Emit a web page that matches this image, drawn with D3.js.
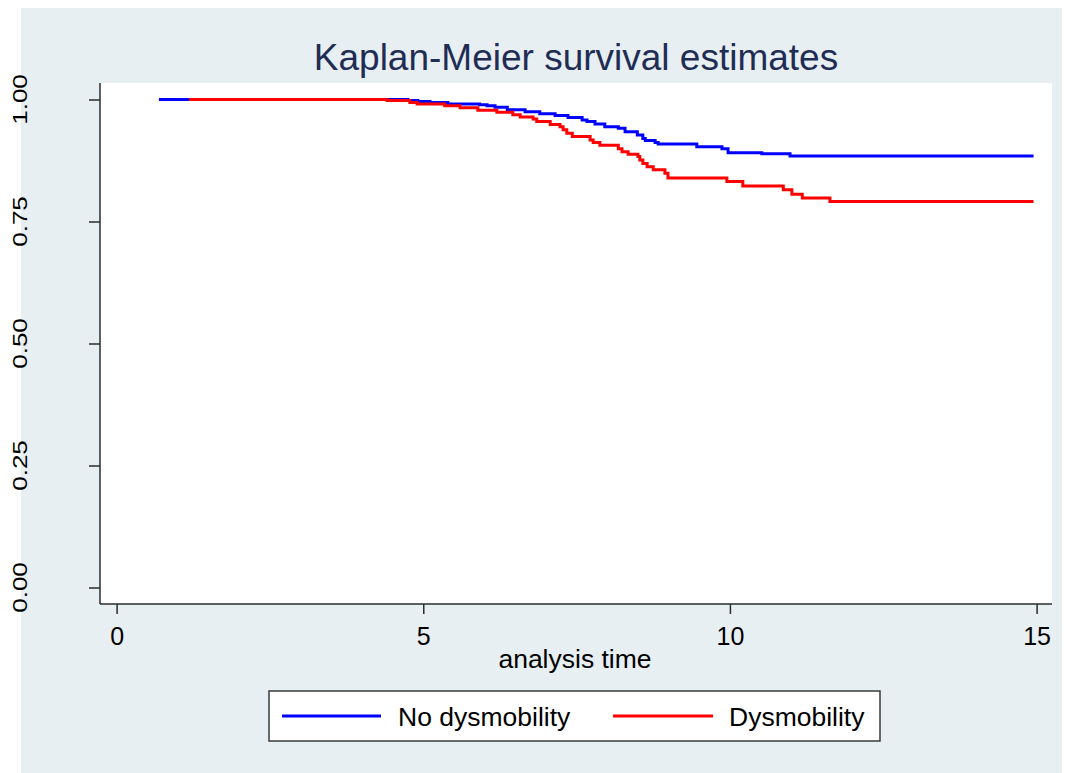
<!DOCTYPE html>
<html>
<head>
<meta charset="utf-8">
<script src="https://cdn.jsdelivr.net/npm/d3@7"></script>
<style>
  html, body { margin: 0; padding: 0; background: #ffffff; }
  svg { display: block; font-family: "Liberation Sans", Arial, sans-serif; }
</style>
</head>
<body>
<svg id="chart" width="1066" height="773"></svg>
<script>
// Kaplan-Meier step estimates, one pair of arrays per group
const noDysTimes = [0.69, 4.75, 4.91, 5.11, 5.40, 5.92, 6.04, 6.17, 6.37, 6.66, 6.90, 7.15, 7.36, 7.59, 7.67, 7.80, 7.96, 8.18, 8.29, 8.49, 8.58, 8.62, 8.78, 8.83, 9.46, 9.87, 9.97, 10.52, 10.98, 14.95];
const noDysSurv  = [1.000, 0.998, 0.996, 0.994, 0.991, 0.989, 0.987, 0.984, 0.979, 0.975, 0.971, 0.967, 0.963, 0.958, 0.955, 0.950, 0.944, 0.941, 0.934, 0.927, 0.920, 0.916, 0.912, 0.909, 0.903, 0.899, 0.891, 0.889, 0.884, 0.884];

const dysTimes = [1.18, 4.41, 4.78, 4.90, 5.35, 5.60, 5.89, 6.20, 6.46, 6.58, 6.79, 6.85, 7.07, 7.23, 7.28, 7.34, 7.43, 7.72, 7.77, 7.88, 8.18, 8.24, 8.34, 8.50, 8.53, 8.58, 8.65, 8.75, 8.94, 8.99, 9.95, 10.21, 10.87, 11.01, 11.18, 11.63, 14.95];
const dysSurv  = [1.000, 0.998, 0.994, 0.991, 0.987, 0.983, 0.978, 0.974, 0.969, 0.964, 0.960, 0.955, 0.949, 0.944, 0.938, 0.931, 0.924, 0.917, 0.912, 0.906, 0.899, 0.893, 0.888, 0.883, 0.876, 0.869, 0.862, 0.856, 0.849, 0.839, 0.832, 0.823, 0.815, 0.806, 0.798, 0.791, 0.791];

const xTicks = [0, 5, 10, 15];
const yTicks = [0, 0.25, 0.5, 0.75, 1];
const yTickLabels = ["0.00", "0.25", "0.50", "0.75", "1.00"];
const groupNames = ["No dysmobility", "Dysmobility"];
const groupColors = ["#0000ff", "#ff0000"];
const titleText = "Kaplan-Meier survival estimates";
const xTitle = "analysis time";

const svg = d3.select("#chart");
const axisColor = "#2b2b2b";

// graph region and plot region
svg.append("rect").attr("x", 21).attr("y", 8).attr("width", 1041).attr("height", 765).attr("fill", "#e8eff2");
const plot = { left: 100, right: 1052, top: 83, bottom: 604 };
svg.append("rect").attr("x", plot.left).attr("y", plot.top)
  .attr("width", plot.right - plot.left).attr("height", plot.bottom - plot.top).attr("fill", "#ffffff");

const x = d3.scaleLinear().domain([0, 15]).range([116.6, 1036.6]);
const y = d3.scaleLinear().domain([0, 1]).range([587.5, 99.5]);

// title
svg.append("text").attr("x", 576).attr("y", 70).attr("text-anchor", "middle")
  .attr("font-size", 37).attr("fill", "#1f2d55").text(titleText);

// y axis
const yAxis = svg.append("g").attr("transform", `translate(${plot.left},0)`)
  .call(d3.axisLeft(y).tickValues(yTicks).tickSize(11).tickFormat(""));
yAxis.select(".domain").remove();
yAxis.selectAll(".tick line").attr("stroke", axisColor).attr("stroke-width", 1.5);
svg.append("line").attr("x1", plot.left).attr("x2", plot.left).attr("y1", plot.top).attr("y2", plot.bottom)
  .attr("stroke", axisColor).attr("stroke-width", 1.5);
// vertical tick labels, narrow across the axis
svg.append("g").selectAll("text").data(yTicks).join("text")
  .attr("transform", (d) => `translate(27,${y(d)}) scale(0.75,1) rotate(-90)`)
  .attr("text-anchor", "middle").attr("font-size", 26).attr("fill", "#000")
  .text((d, i) => yTickLabels[i]);

// x axis
const xAxis = svg.append("g").attr("transform", `translate(0,${plot.bottom})`)
  .call(d3.axisBottom(x).tickValues(xTicks).tickSize(10).tickPadding(13).tickFormat(d3.format("d")));
xAxis.select(".domain").remove();
xAxis.selectAll(".tick line").attr("stroke", axisColor).attr("stroke-width", 1.5);
xAxis.selectAll(".tick text").attr("font-size", 25).attr("fill", "#000")
  .attr("font-family", "Liberation Sans, Arial, sans-serif");
svg.append("line").attr("x1", plot.left).attr("x2", plot.right).attr("y1", plot.bottom).attr("y2", plot.bottom)
  .attr("stroke", axisColor).attr("stroke-width", 1.5);
svg.append("text").attr("x", 575).attr("y", 668).attr("text-anchor", "middle")
  .attr("font-size", 26.5).attr("fill", "#000").text(xTitle);

// survival curves
const step = d3.line().x((d) => x(d[0])).y((d) => y(d[1])).curve(d3.curveStepAfter);
const series = [
  d3.zip(noDysTimes, noDysSurv),
  d3.zip(dysTimes, dysSurv)
];
svg.append("g").selectAll("path").data(series).join("path")
  .attr("d", step).attr("fill", "none")
  .attr("stroke", (d, i) => groupColors[i]).attr("stroke-width", 3);

// legend
const legend = svg.append("g");
legend.append("rect").attr("x", 269).attr("y", 691).attr("width", 611).attr("height", 50)
  .attr("fill", "#ffffff").attr("stroke", "#3a3a3a").attr("stroke-width", 1.5);
const legendX = [[282, 381, 398], [613, 713, 729]];
groupNames.forEach((name, i) => {
  legend.append("line").attr("x1", legendX[i][0]).attr("x2", legendX[i][1]).attr("y1", 716).attr("y2", 716)
    .attr("stroke", groupColors[i]).attr("stroke-width", 3);
  legend.append("text").attr("x", legendX[i][2]).attr("y", 725.5).attr("font-size", 26.5).attr("fill", "#000").text(name);
});
</script>
</body>
</html>
